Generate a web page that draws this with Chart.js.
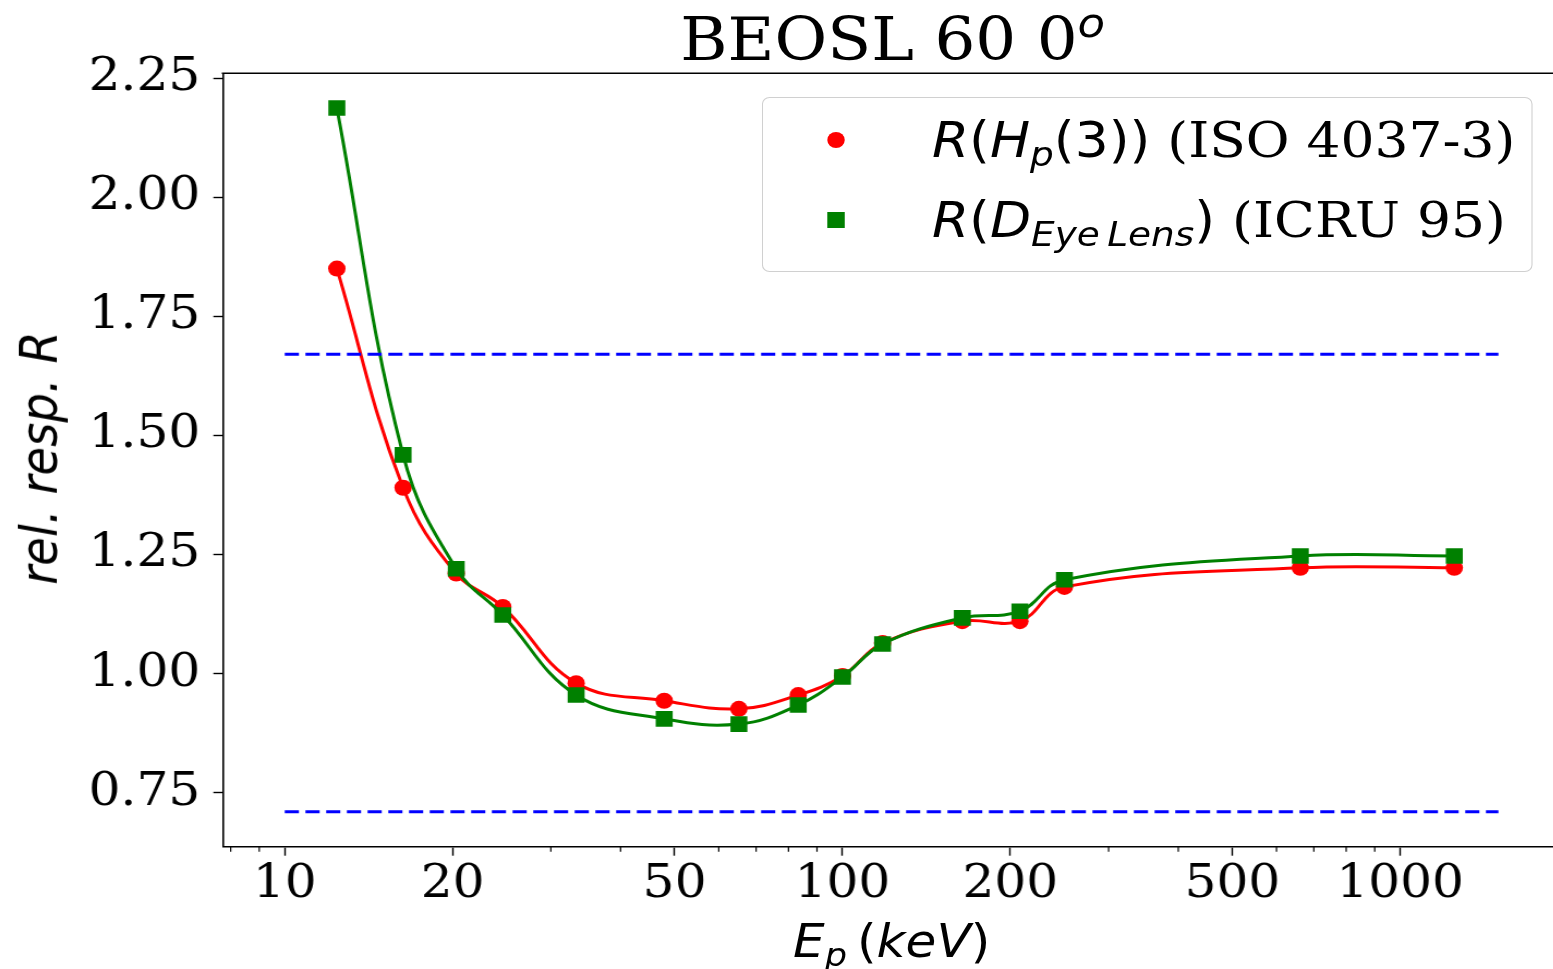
<!DOCTYPE html>
<html>
<head>
<meta charset="utf-8">
<script src="https://cdn.jsdelivr.net/npm/chart.js@4.4.0/dist/chart.umd.min.js"></script>
<style>
  body { margin: 0; background: #fff; overflow: hidden; }
  /* the reference figure is stretched a little horizontally, so is this one */
  #wrap { position: absolute; left: 0; top: 0; width: 1425px; height: 969px; transform: scaleX(1.09); transform-origin: 0 0; }
  #chart { position: absolute; left: 0; top: 0; }
  .txt { position: absolute; white-space: nowrap; color: #000; }
  .serif { font-family: "DejaVu Serif", serif; font-style: normal; }
  .math { font-family: "DejaVu Sans", sans-serif; font-style: normal; }
  .math i { font-style: oblique; }
  .sub { position: relative; top: 0.28em; font-size: 0.7em; }
  #title { left: 819px; top: 10px; font-size: 59px; line-height: 59px; transform: translateX(-50%); }
  #title .sup { position: relative; top: -0.55em; font-size: 0.7em; font-family: "DejaVu Sans", sans-serif; font-style: oblique; }
  #xlabel { left: 818px; top: 918px; font-size: 46px; line-height: 46px; transform: translateX(-50%); }
  #ylabel { left: 36px; top: 458px; font-size: 46.5px; line-height: 46px; transform: translate(-50%, -50%) rotate(-90deg); }
  #legend { position: absolute; left: 699px; top: 97px; width: 707px; height: 175px; border: 1.5px solid #d0d0d0; border-radius: 7px; background: rgba(255,255,255,0.8); box-sizing: border-box; }
  .mk { position: absolute; }
  .row { font-size: 49px; line-height: 49px; left: 855px; }
</style>
</head>
<body>
<div id="wrap">
  <canvas id="chart" width="1425" height="969"></canvas>
  <div id="title" class="txt serif">BEOSL 60 0<span class="sup">o</span></div>
  <div id="xlabel" class="txt math"><i>E</i><span class="sub"><i>p</i></span>&#8201;(<i>keV</i>)</div>
  <div id="ylabel" class="txt math"><i>rel. resp. R</i></div>
  <div id="legend"></div>
  <span class="mk" style="left:759px;top:132px;width:16px;height:16px;border-radius:50%;background:#ff0000;"></span>
  <span class="mk" style="left:759px;top:212px;width:16px;height:16px;background:#008000;"></span>
  <div class="txt row" style="top:115.5px;"><span class="math"><i>R</i>(<i>H</i><span class="sub"><i>p</i></span>(3))</span><span class="serif"> (ISO 4037-3)</span></div>
  <div class="txt row" style="top:195.5px;"><span class="math"><i>R</i>(<i>D</i><span class="sub"><i>Eye</i>&#8201;<i>Lens</i></span>)</span><span class="serif"> (ICRU 95)</span></div>
</div>
<script>
// photon mean energies (keV) of the reference radiation qualities
const energies = [12.4, 16.3, 20.3, 24.6, 33.3, 47.9, 65.2, 83.3, 100, 118, 164, 208, 250, 662, 1250];
// relative response, R(Hp(3)) (ISO 4037-3)
const respHp3 = [1.85, 1.39, 1.21, 1.14, 0.98, 0.943, 0.926, 0.955, 0.995, 1.064, 1.11, 1.11, 1.182, 1.222, 1.222];
// relative response, R(D_EyeLens) (ICRU 95)
const respEyeLens = [2.187, 1.459, 1.22, 1.123, 0.955, 0.905, 0.894, 0.934, 0.993, 1.062, 1.117, 1.131, 1.197, 1.247, 1.247];
// acceptance limits
const limitUpper = 1.67;
const limitLower = 0.71;
const limitRange = [10, 1500];
// ticks
const xMajorTicks = [10, 20, 50, 100, 200, 500, 1000];
const xMinorTicks = [8, 9, 30, 40, 60, 70, 80, 90, 300, 400, 600, 700, 800, 900];
const yTicks = [0.75, 1.00, 1.25, 1.50, 1.75, 2.00, 2.25];

function toPoints(xs, ys) {
  return xs.map((x, i) => ({ x: x, y: ys[i] }));
}

// top spine and the short minor ticks of the log axis
const framePlugin = {
  id: 'frame',
  afterDraw(chart) {
    const ctx = chart.ctx;
    const a = chart.chartArea;
    const x = chart.scales.x;
    ctx.save();
    ctx.strokeStyle = '#000';
    ctx.lineWidth = 1.6;
    ctx.beginPath();
    ctx.moveTo(a.left - 0.8, a.top);
    ctx.lineTo(a.right, a.top);
    ctx.stroke();
    ctx.lineWidth = 1.2;
    ctx.beginPath();
    xMinorTicks.forEach(v => {
      const px = x.getPixelForValue(v);
      ctx.moveTo(px, a.bottom);
      ctx.lineTo(px, a.bottom + 5);
    });
    ctx.stroke();
    ctx.restore();
  }
};

const tickFont = { family: 'DejaVu Serif', size: 46 };

new Chart(document.getElementById('chart'), {
  type: 'line',
  data: {
    datasets: [
      {
        label: 'upper limit',
        data: toPoints(limitRange, [limitUpper, limitUpper]),
        borderColor: '#0000ff',
        borderWidth: 3,
        borderDash: [13, 6],
        pointRadius: 0,
        tension: 0,
        order: 0
      },
      {
        label: 'lower limit',
        data: toPoints(limitRange, [limitLower, limitLower]),
        borderColor: '#0000ff',
        borderWidth: 3,
        borderDash: [13, 6],
        pointRadius: 0,
        tension: 0,
        order: 0
      },
      {
        label: 'R(D_EyeLens) (ICRU 95)',
        data: toPoints(energies, respEyeLens),
        borderColor: '#008000',
        backgroundColor: '#008000',
        borderWidth: 3,
        pointStyle: 'rect',
        pointRadius: 11,
        pointBorderWidth: 0,
        tension: 0.4,
        order: 1
      },
      {
        label: 'R(Hp(3)) (ISO 4037-3)',
        data: toPoints(energies, respHp3),
        borderColor: '#ff0000',
        backgroundColor: '#ff0000',
        borderWidth: 3,
        pointStyle: 'circle',
        pointRadius: 8,
        pointBorderWidth: 0,
        tension: 0.4,
        order: 2
      }
    ]
  },
  options: {
    responsive: false,
    animation: false,
    layout: { autoPadding: false, padding: { top: 73.3, right: 0, left: 0, bottom: 0 } },
    plugins: {
      legend: { display: false },
      title: { display: false },
      tooltip: { enabled: false }
    },
    scales: {
      x: {
        type: 'logarithmic',
        min: 7.74,
        max: 1881,
        afterBuildTicks: scale => {
          scale.ticks = xMinorTicks.concat(xMajorTicks).sort((a, b) => a - b)
            .map(v => ({ value: v, major: xMajorTicks.includes(v) }));
        },
        afterFit: scale => {
          scale.height = 969 - 846.7;
          scale.paddingLeft = 0;
          scale.paddingRight = 0;
        },
        ticks: {
          autoSkip: false,
          maxRotation: 0,
          minRotation: 0,
          padding: 2,
          color: '#000',
          font: tickFont,
          callback: v => xMajorTicks.includes(v) ? String(v) : ''
        },
        grid: {
          display: true,
          drawOnChartArea: false,
          drawTicks: true,
          tickLength: 9,
          tickWidth: 1.4,
          tickColor: c => (c.tick && xMajorTicks.includes(c.tick.value)) ? '#000' : 'rgba(0,0,0,0)'
        },
        border: { display: true, color: '#000', width: 1.6 }
      },
      y: {
        type: 'linear',
        min: 0.6367,
        max: 2.2599,
        afterBuildTicks: scale => {
          scale.ticks = yTicks.map(v => ({ value: v }));
        },
        afterFit: scale => { scale.width = 204.3; },
        ticks: {
          padding: 12,
          color: '#000',
          font: tickFont,
          callback: v => Number(v).toFixed(2)
        },
        grid: {
          display: true,
          drawOnChartArea: false,
          drawTicks: true,
          tickLength: 8.6,
          tickWidth: 1.4,
          tickColor: '#000'
        },
        border: { display: true, color: '#000', width: 1.6 }
      }
    }
  },
  plugins: [framePlugin]
});
</script>
</body>
</html>
